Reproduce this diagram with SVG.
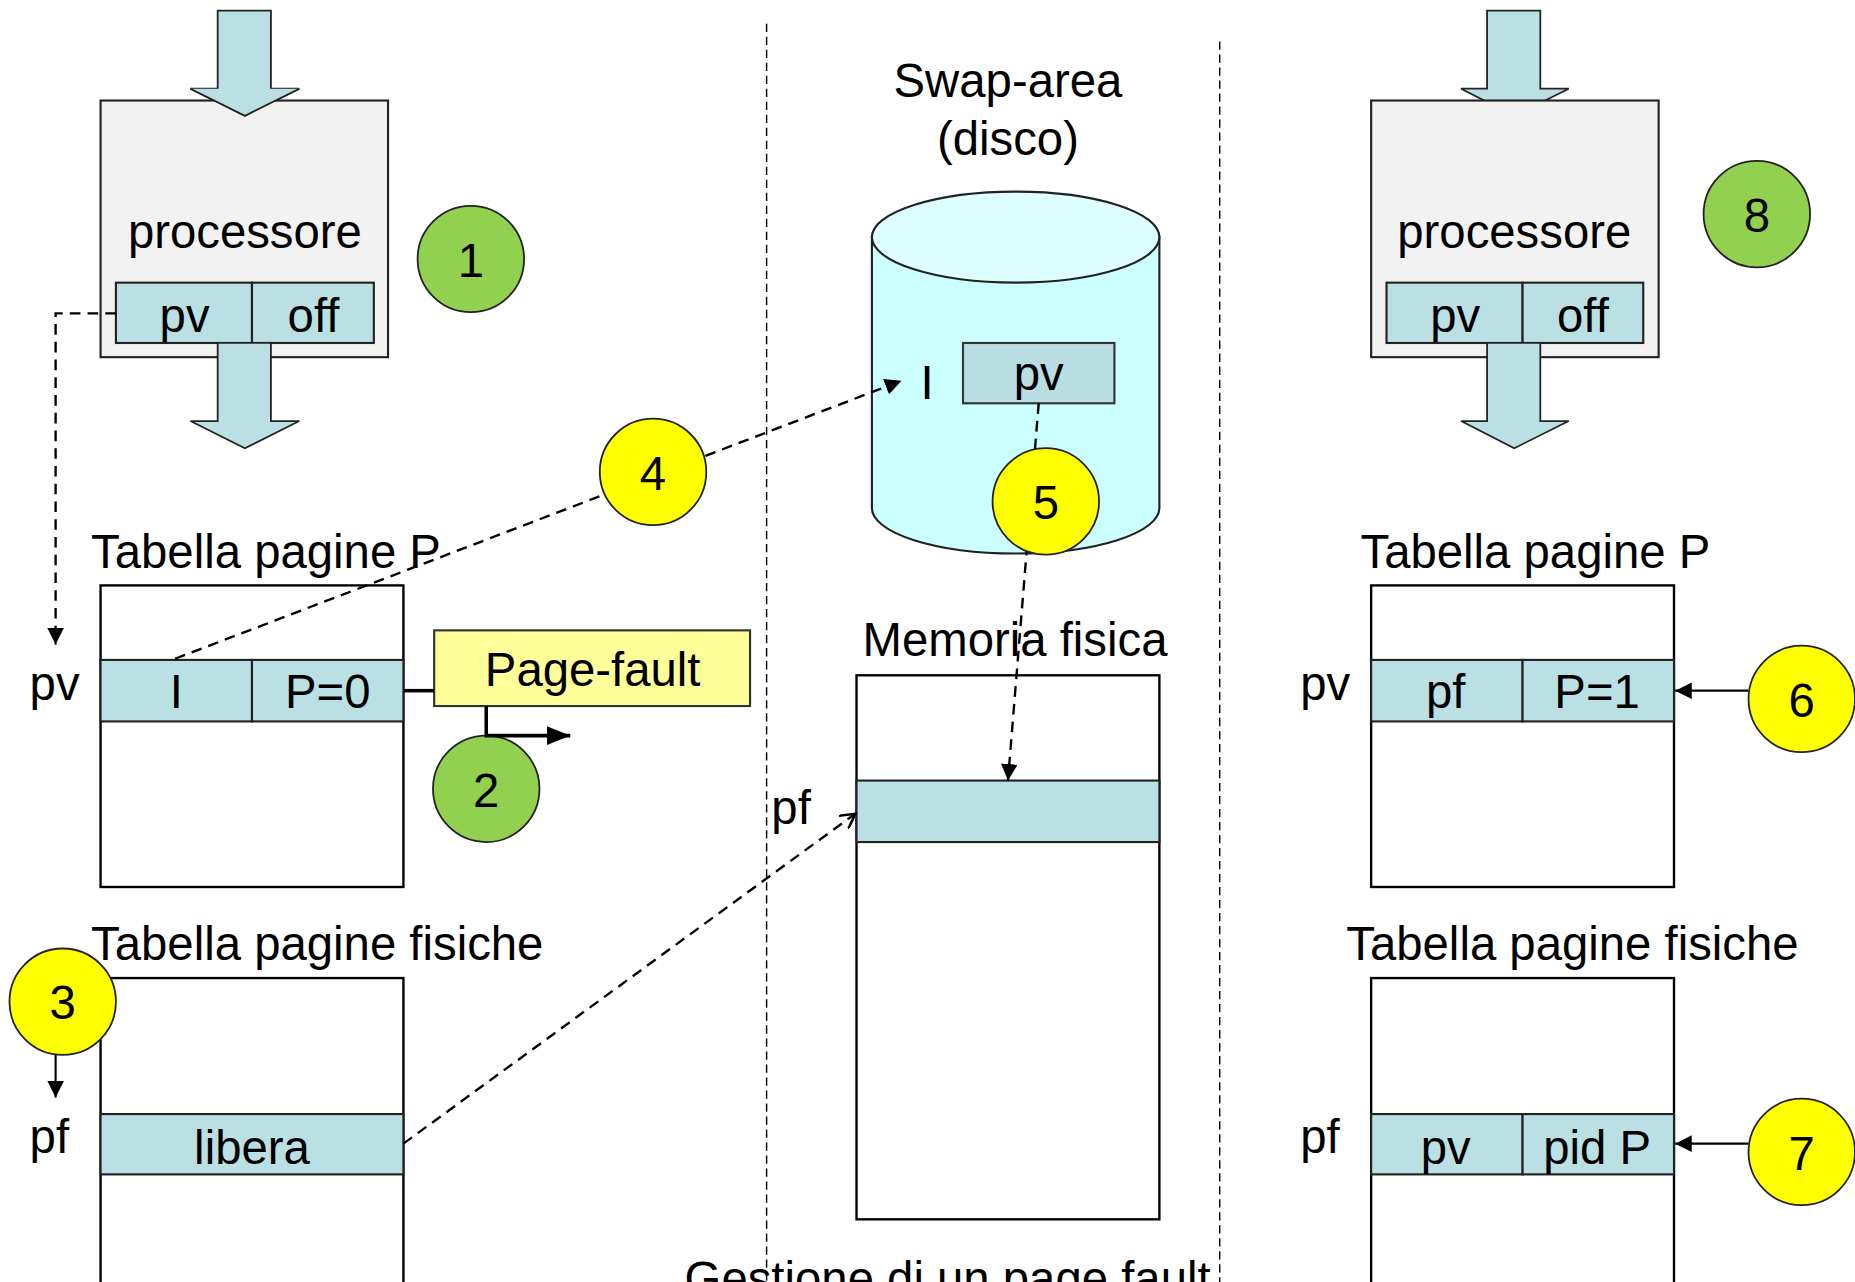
<svg xmlns="http://www.w3.org/2000/svg" width="1855" height="1282" viewBox="0 0 1855 1282">
<defs>
<style>
text{font-family:"Liberation Sans",Arial,sans-serif;fill:#000;}
.t40{font-size:40px;}
.c{text-anchor:middle;}
.box{fill:#fff;stroke:#000;stroke-width:2;}
.row{fill:#bae0e3;stroke:#222;stroke-width:1.8;}
.proc{fill:#f2f2f2;stroke:#222;stroke-width:1.8;}
.bigarrow{fill:#bae0e3;stroke:#222;stroke-width:1.5;}
.green{fill:#92d050;stroke:#222;stroke-width:1.5;}
.yellow{fill:#ffff00;stroke:#222;stroke-width:1.5;}
.dash{fill:none;stroke:#000;stroke-width:2;stroke-dasharray:9 6;}
.sep{fill:none;stroke:#000;stroke-width:1.2;stroke-dasharray:7 4;}
.solid{fill:none;stroke:#000;stroke-width:1.8;}
.thick{fill:none;stroke:#000;stroke-width:3;}
</style>
<marker id="ah" viewBox="0 0 10 10" refX="10" refY="5" markerWidth="14" markerHeight="14" markerUnits="userSpaceOnUse" orient="auto">
<path d="M0,0 L10,5 L0,10 z" fill="#000"/>
</marker>
<marker id="ahBig" viewBox="0 0 10 10" refX="10" refY="5" markerWidth="20" markerHeight="20" markerUnits="userSpaceOnUse" orient="auto">
<path d="M0,1 L10,5 L0,9 z" fill="#000"/>
</marker>
<marker id="ahOpen" viewBox="0 0 10 10" refX="9" refY="5" markerWidth="14" markerHeight="14" markerUnits="userSpaceOnUse" orient="auto">
<path d="M0,0 L9,5 L0,10" fill="none" stroke="#000" stroke-width="1.5"/>
</marker>
</defs>
<rect x="0" y="0" width="1855" height="1282" fill="#fff"/>
<g transform="scale(1.18304,1.18266)">

<!-- separators -->
<g id="separators">
<line class="sep" x1="648" y1="20" x2="648" y2="1084"/>
<line class="sep" x1="1031" y1="35" x2="1031" y2="1084"/>
</g>

<!-- left processor -->
<g id="proc-left">
<path class="bigarrow" d="M184,9 H229 V75 H253 L207,98 L161,75 H184 Z"/>
<rect class="proc" x="85" y="85" width="243" height="217"/>
<path class="bigarrow" d="M161,75 L207,98 L253,75" fill="none" stroke="none"/>
<text class="t40 c" x="207" y="210">processore</text>
<rect class="row" x="98" y="239" width="115" height="51"/>
<rect class="row" x="213" y="239" width="103" height="51"/>
<text class="t40 c" x="156" y="281">pv</text>
<text class="t40 c" x="265" y="281">off</text>
<path class="bigarrow" d="M184,290 H229 V356 H253 L207,379 L161,356 H184 Z"/>
</g>

<g id="step1"><circle class="green" cx="398" cy="219" r="45"/><text class="t40 c" x="398" y="234">1</text></g>

<!-- left page table -->
<g id="tab-p-left">
<text class="t40" x="77" y="480">Tabella pagine P</text>
<rect class="box" x="85" y="495" width="256" height="255"/>
<rect class="row" x="85" y="558" width="128" height="52"/>
<rect class="row" x="213" y="558" width="128" height="52"/>
<text class="t40 c" x="149" y="599">I</text>
<text class="t40 c" x="277" y="599">P=0</text>
<text class="t40" x="25" y="592">pv</text>
</g>

<g id="pagefault">
<rect x="367" y="533" width="267" height="64" fill="#ffff99" stroke="#333" stroke-width="1.8"/>
<text class="t40 c" x="501" y="580">Page-fault</text>
</g>

<g id="step2"><circle class="green" cx="411" cy="667" r="45"/><text class="t40 c" x="411" y="682">2</text></g>

<!-- left physical page table -->
<g id="tab-f-left">
<text class="t40" x="77" y="812">Tabella pagine fisiche</text>
<rect class="box" x="85" y="827" width="256" height="260"/>
<rect class="row" x="85" y="942" width="256" height="51"/>
<text class="t40 c" x="213" y="984">libera</text>
<text class="t40" x="25" y="975">pf</text>
</g>

<!-- swap area -->
<g id="swap">
<text class="t40 c" x="852" y="82">Swap-area</text>
<text class="t40 c" x="852" y="131">(disco)</text>
<path d="M737,200.5 V429.5 A121.5,38.5 0 0 0 980,429.5 V200.5 Z" fill="#ccffff" stroke="#222" stroke-width="1.8"/>
<ellipse cx="858.5" cy="200.5" rx="121.5" ry="38.5" fill="#ddffff" stroke="#222" stroke-width="1.8"/>
<rect x="814" y="290" width="128" height="51" fill="#b9dde0" stroke="#333" stroke-width="1.8"/>
<text class="t40 c" x="878" y="330">pv</text>
<text class="t40" x="778" y="337">I</text>
</g>

<!-- physical memory -->
<g id="memoria">
<text class="t40 c" x="858" y="555">Memoria fisica</text>
<rect class="box" x="724" y="571" width="256" height="460"/>
<rect class="row" x="724" y="660" width="256" height="52"/>
<text class="t40" x="652" y="697">pf</text>
</g>

<text id="title" class="t40 c" x="801" y="1095">Gestione di un page fault</text>

<!-- right processor -->
<g id="proc-right">
<path class="bigarrow" d="M1257,9 H1302 V75 H1326 L1280,98 L1235,75 H1257 Z"/>
<rect class="proc" x="1159" y="85" width="243" height="217"/>
<text class="t40 c" x="1280" y="210">processore</text>
<rect class="row" x="1172" y="239" width="115" height="51"/>
<rect class="row" x="1287" y="239" width="102" height="51"/>
<text class="t40 c" x="1230" y="281">pv</text>
<text class="t40 c" x="1338" y="281">off</text>
<path class="bigarrow" d="M1257,290 H1302 V356 H1326 L1280,379 L1235,356 H1257 Z"/>
</g>

<g id="step8"><circle class="green" cx="1485" cy="181" r="45"/><text class="t40 c" x="1485" y="196">8</text></g>

<!-- right page table -->
<g id="tab-p-right">
<text class="t40" x="1150" y="480">Tabella pagine P</text>
<rect class="box" x="1159" y="495" width="256" height="255"/>
<rect class="row" x="1159" y="558" width="128" height="52"/>
<rect class="row" x="1287" y="558" width="128" height="52"/>
<text class="t40 c" x="1222" y="599">pf</text>
<text class="t40 c" x="1350" y="599">P=1</text>
<text class="t40" x="1099" y="592">pv</text>
</g>

<!-- right physical page table -->
<g id="tab-f-right">
<text class="t40" x="1138" y="812">Tabella pagine fisiche</text>
<rect class="box" x="1159" y="827" width="256" height="260"/>
<rect class="row" x="1159" y="942" width="128" height="51"/>
<rect class="row" x="1287" y="942" width="128" height="51"/>
<text class="t40 c" x="1222" y="984">pv</text>
<text class="t40 c" x="1350" y="984">pid P</text>
<text class="t40" x="1099" y="975">pf</text>
</g>

<!-- connectors -->
<g id="connectors">
<path class="dash" d="M98,265 H47 V545" marker-end="url(#ah)"/>
<line class="thick" x1="341" y1="584" x2="367" y2="584"/>
<path class="thick" d="M411,597 V622 H482" marker-end="url(#ahBig)"/>
<line class="dash" x1="148" y1="557" x2="762" y2="322" marker-end="url(#ah)"/>
<line class="dash" x1="878" y1="341" x2="852" y2="660" marker-end="url(#ah)"/>
<line class="dash" x1="341" y1="967" x2="723" y2="688" marker-end="url(#ahOpen)"/>
<line class="solid" x1="47" y1="891" x2="47" y2="928" marker-end="url(#ah)"/>
<line class="solid" x1="1478" y1="584" x2="1416" y2="584" marker-end="url(#ah)"/>
<line class="solid" x1="1478" y1="967" x2="1416" y2="967" marker-end="url(#ah)"/>
</g>

<!-- step circles over connectors -->
<g id="step3"><circle class="yellow" cx="53" cy="847" r="45"/><text class="t40 c" x="53" y="862">3</text></g>
<g id="step4"><circle class="yellow" cx="552" cy="399" r="45"/><text class="t40 c" x="552" y="414">4</text></g>
<g id="step5"><circle class="yellow" cx="884" cy="424" r="45"/><text class="t40 c" x="884" y="439">5</text></g>
<g id="step6"><circle class="yellow" cx="1523" cy="591" r="45"/><text class="t40 c" x="1523" y="606">6</text></g>
<g id="step7"><circle class="yellow" cx="1523" cy="974" r="45"/><text class="t40 c" x="1523" y="989">7</text></g>

</g>
</svg>
